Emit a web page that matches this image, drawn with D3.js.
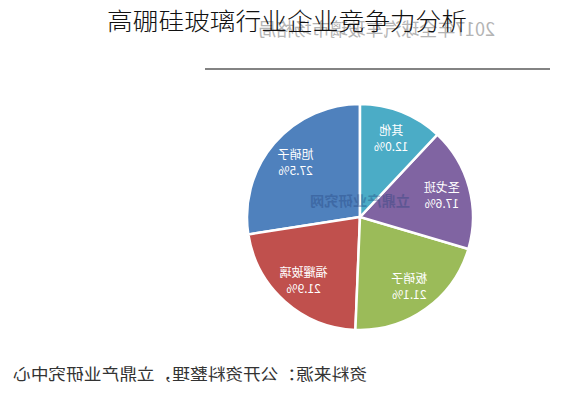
<!DOCTYPE html>
<html><head><meta charset="utf-8">
<script src="https://cdn.jsdelivr.net/npm/d3@7"></script>
<style>body{margin:0;background:#fff}svg{display:block}</style>
</head><body>
<svg id="c" width="573" height="400"></svg>
<script>
const categories = ["旭硝子", "福耀玻璃", "板硝子", "圣戈班", "其他"];
const shares = [27.5, 21.9, 21.1, 17.6, 12.0];
const colors = ["#4f81bd", "#c0504d", "#9bbb59", "#8064a2", "#4bacc6"];
const titleText = "高硼硅玻璃行业企业竞争力分析";
const subtitleText = "2017年全球汽车玻璃市场格局";
const sourceText = "资料来源：公开资料整理，立鼎产业研究中心";
const watermarkText = "立鼎产业研究网";

const svg = d3.select("#c");
const font = "'Noto Sans CJK SC', 'Noto Sans', sans-serif";
const cx = 360, cy = 217, R = 113;

// faint mirrored subtitle (partly behind the title, as in the reference)
svg.append("text")
  .attr("transform", `translate(${(258+495)/2},36) scale(-1,1)`)
  .attr("text-anchor", "middle").attr("font-family", font)
  .attr("font-size", 18).attr("fill", "#b4b4b4")
  .attr("textLength", 237).attr("lengthAdjust", "spacingAndGlyphs")
  .text(subtitleText);

// title
svg.append("text")
  .attr("x", 107).attr("y", 30)
  .attr("font-family", font).attr("font-size", 24).attr("font-weight", 300).attr("fill", "#111")
  .attr("textLength", 360).attr("lengthAdjust", "spacingAndGlyphs")
  .text(titleText);

// rule
svg.append("line").attr("x1", 205).attr("x2", 550).attr("y1", 69).attr("y2", 69)
  .attr("stroke", "#5a5a5a").attr("stroke-width", 1.6);

// pie (mirrored horizontally as in reference)
const pie = d3.pie().sort(null).value(d => d.v);
const data = pie(categories.map((c, i) => ({c, v: shares[i], col: colors[i]})));
const arc = d3.arc().innerRadius(0).outerRadius(R);
const labelArc = d3.arc().innerRadius(R * 0.75).outerRadius(R * 0.75);

const g = svg.append("g").attr("transform", `translate(${cx},${cy}) scale(-1,1)`);
g.selectAll("path").data(data).join("path")
  .attr("d", arc).attr("fill", d => d.data.col)
  .attr("stroke", "#fff").attr("stroke-width", 2.5);

// watermark
g.append("text").attr("x", 0).attr("y", -11)
  .attr("text-anchor", "middle").attr("font-family", font)
  .attr("font-size", 14).attr("font-weight", "bold").attr("fill", "#1f3f7a").attr("opacity", 0.35)
  .attr("textLength", 100).attr("lengthAdjust", "spacingAndGlyphs")
  .text(watermarkText);

const lab = g.selectAll("g.lab").data(data).join("g").attr("class", "lab")
  .attr("transform", d => `translate(${labelArc.centroid(d)})`);
lab.append("text").attr("y", -3).attr("text-anchor", "middle")
  .attr("font-family", font).attr("font-size", 12).attr("fill", "#fff")
  .text(d => d.data.c);
lab.append("text").attr("y", 13).attr("text-anchor", "middle")
  .attr("font-family", font).attr("font-size", 12).attr("fill", "#fff")
  .text(d => d3.format(".1f")(d.data.v) + "%");

// mirrored source line
svg.append("text")
  .attr("transform", `translate(${(13+367)/2},380) scale(-1,1)`)
  .attr("text-anchor", "middle").attr("font-family", font)
  .attr("font-size", 16).attr("fill", "#333")
  .attr("textLength", 354).attr("lengthAdjust", "spacingAndGlyphs")
  .text(sourceText);
</script>
</body></html>
